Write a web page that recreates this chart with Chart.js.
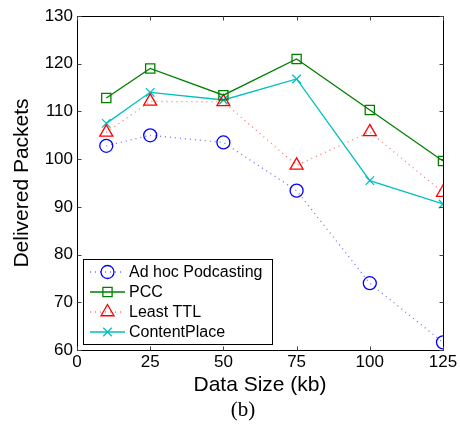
<!DOCTYPE html>
<html><head><meta charset="utf-8">
<script src="https://cdn.jsdelivr.net/npm/chart.js@4/dist/chart.umd.min.js"></script>
<style>html,body{margin:0;padding:0;background:#fff}#wrap{width:460px;height:433px}</style>
</head><body><div id="wrap"><canvas id="c" width="460" height="433"></canvas></div>
<script>
const dataSizes = [10, 25, 50, 75, 100, 125];
const adHocPodcasting = [102.8, 105.0, 103.5, 93.4, 74.0, 61.6];
const pcc = [112.8, 119.0, 113.4, 121.0, 110.3, 99.6];
const leastTTL = [105.6, 112.1, 112.0, 98.7, 105.7, 93.0];
const contentPlace = [107.5, 114.0, 112.4, 116.8, 95.5, 90.6];
const xTicks = [0, 25, 50, 75, 100, 125];
const yTicks = [60, 70, 80, 90, 100, 110, 120, 130];
const seriesNames = ['Ad hoc Podcasting', 'PCC', 'Least TTL', 'ContentPlace'];

const FONT = "'Liberation Sans', Arial, sans-serif";

function pts(ys){ return dataSizes.map((x,i)=>({x, y: ys[i]})); }

const styles = [
  {color:'#0000ff', line:'rgba(80,80,255,0.8)', dash:[1,4], point:'circle', r:6.5},
  {color:'#008000', line:'#008000', dash:[], point:'rect', r:6.5},
  {color:'#ff0000', line:'rgba(255,80,80,0.8)', dash:[1,4], point:'triangle', r:7.5},
  {color:'#00bfbf', line:'#00bfbf', dash:[], point:'crossRot', r:6}
];
const series = [adHocPodcasting, pcc, leastTTL, contentPlace];

const datasets = series.map((s,i)=>({
  label: seriesNames[i],
  data: pts(s),
  borderColor: styles[i].line,
  borderDash: styles[i].dash,
  borderWidth: 1.3,
  pointStyle: styles[i].point,
  pointRadius: styles[i].r,
  pointBorderColor: styles[i].color,
  pointBackgroundColor: 'rgba(0,0,0,0)',
  pointBorderWidth: 1.3,
  tension: 0,
  fill: false
}));

const boxPlugin = {
  id: 'box',
  afterDraw(chart){
    const {ctx, chartArea: a, scales:{x, y}} = chart;
    ctx.save();
    ctx.strokeStyle = '#000';
    ctx.lineWidth = 1;
    const L = Math.round(a.left)+0.5, R = Math.round(a.right)+0.5, T = Math.round(a.top)+0.5, B = Math.round(a.bottom)+0.5;
    ctx.strokeRect(L, T, R-L, B-T);
    ctx.strokeStyle = '#444';
    xTicks.forEach(v=>{
      const px = Math.round(x.getPixelForValue(v))+0.5;
      ctx.beginPath(); ctx.moveTo(px,B); ctx.lineTo(px,B-4); ctx.moveTo(px,T); ctx.lineTo(px,T+4); ctx.stroke();
    });
    yTicks.forEach(v=>{
      const py = Math.round(y.getPixelForValue(v))+0.5;
      ctx.beginPath(); ctx.moveTo(L,py); ctx.lineTo(L+4,py); ctx.moveTo(R,py); ctx.lineTo(R-4,py); ctx.stroke();
    });
    // legend
    const lx = 83, ly = 259, lw = 189, lh = 85;
    ctx.fillStyle = '#fff';
    ctx.fillRect(lx, ly, lw, lh);
    ctx.strokeStyle = '#000';
    ctx.strokeRect(lx+0.5, ly+0.5, lw, lh);
    ctx.font = '16px ' + FONT;
    ctx.textBaseline = 'middle';
    chart.data.datasets.forEach((ds,i)=>{
      const yy = 272 + i*20;
      ctx.save();
      ctx.strokeStyle = ds.borderColor;
      ctx.setLineDash(ds.borderDash);
      ctx.lineWidth = 1.3;
      ctx.beginPath(); ctx.moveTo(90, yy); ctx.lineTo(125, yy); ctx.stroke();
      ctx.restore();
      ctx.save();
      ctx.fillStyle = 'rgba(0,0,0,0)';
      ctx.strokeStyle = ds.pointBorderColor; ctx.lineWidth = 1.3;
      Chart.helpers.drawPoint(ctx, {pointStyle: ds.pointStyle, radius: ds.pointRadius, borderWidth: 1.3}, 107.5, yy);
      ctx.restore();
      ctx.fillStyle = '#000';
      ctx.fillText(ds.label, 129, yy + 1);
    });
    // caption
    ctx.font = "21px 'Liberation Serif', 'DejaVu Serif', serif";
    ctx.textAlign = 'center';
    ctx.fillStyle = '#000';
    ctx.fillText('(b)', 243, 410);
    ctx.restore();
  }
};

new Chart(document.getElementById('c'), {
  type: 'line',
  data: { datasets },
  options: {
    responsive: false,
    animation: false,
    layout: { padding: { left: 10, right: 17, top: 16, bottom: 35 } },
    plugins: { legend: { display: false }, tooltip: { enabled: false } },
    scales: {
      x: {
        type: 'linear', min: 0, max: 125,
        afterBuildTicks(s){ s.ticks = xTicks.map(v=>({value:v})); },
        afterFit(s){ s.height = 48; },
        grid: { display: false, drawTicks: false },
        border: { display: false },
        ticks: { color: '#000', font: { family: FONT, size: 17 }, padding: 2, maxRotation: 0 },
        title: { display: true, text: 'Data Size (kb)', color: '#000', font: { family: FONT, size: 21 }, padding: { top: 0, bottom: 0 } }
      },
      y: {
        type: 'linear', min: 60, max: 130,
        afterBuildTicks(s){ s.ticks = yTicks.map(v=>({value:v})); },
        afterFit(s){ s.width = 67; },
        grid: { display: false, drawTicks: false },
        border: { display: false },
        ticks: { color: '#000', font: { family: FONT, size: 17 }, padding: 4 },
        title: { display: true, text: 'Delivered Packets', color: '#000', font: { family: FONT, size: 21 }, padding: { top: 0, bottom: 2 } }
      }
    }
  },
  plugins: [boxPlugin]
});
</script></body></html>
